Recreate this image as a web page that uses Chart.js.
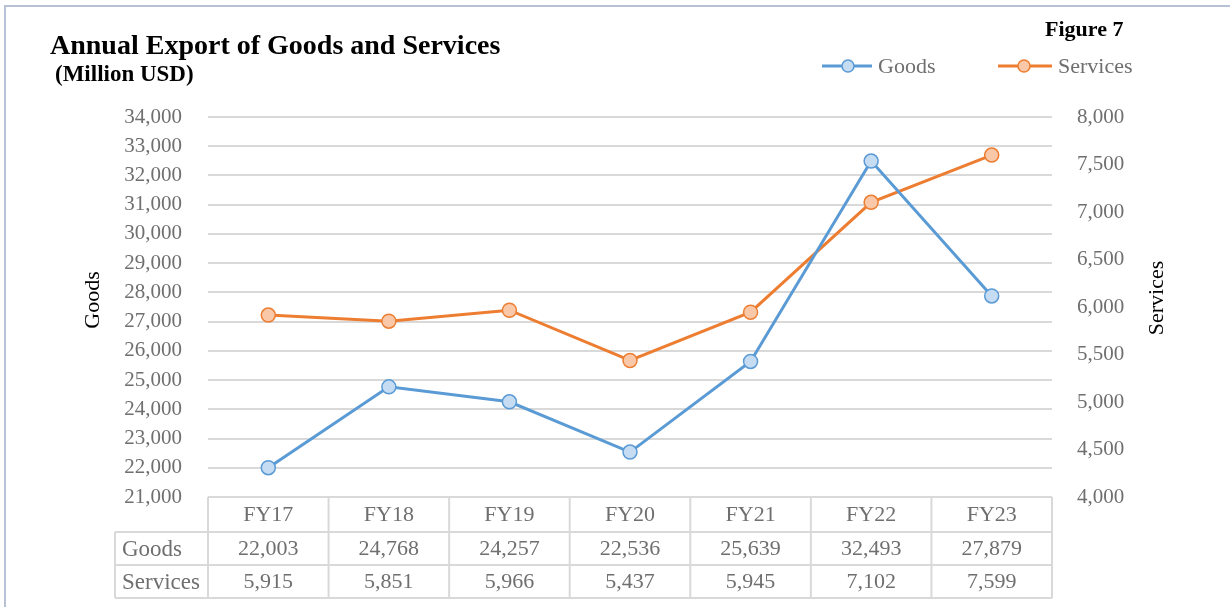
<!DOCTYPE html>
<html>
<head>
<meta charset="utf-8">
<title>Annual Export of Goods and Services</title>
<script src="https://cdn.jsdelivr.net/npm/chart.js@4.4.1/dist/chart.umd.min.js"></script>
<style>
  html, body { margin: 0; padding: 0; background: #fff; }
  #wrap { position: relative; width: 1230px; height: 607px; overflow: hidden; }
  #frame { position: absolute; left: 4px; top: 5px; width: 1240px; height: 620px;
           border-top: 2px solid #b8c2d6; border-left: 2px solid #b8c2d6; pointer-events: none; }
  canvas { position: absolute; left: 0; top: 0; }
</style>
</head>
<body>
<div id="wrap">
  <canvas id="myChart" width="1230" height="607"></canvas>
  <div id="frame"></div>
</div>
<script>
// datos
var years = ["FY17", "FY18", "FY19", "FY20", "FY21", "FY22", "FY23"];
var goods = [22003, 24768, 24257, 22536, 25639, 32493, 27879];
var services = [5915, 5851, 5966, 5437, 5945, 7102, 7599];
var goodsTicks = [21000, 34000, 1000];
var servicesTicks = [4000, 8000, 500];

var serif = "'Liberation Serif', 'DejaVu Serif', serif";
var grayText = "#6f6f6f";
var blue = "#5b9bd5";
var orange = "#ed7d31";

function fmt(v) {
    return v.toLocaleString("en-US");
}

// titulos, leyenda y tabla de datos
var extras = {
    id: "extras",
    afterDraw: function (chart) {
        var ctx = chart.ctx;
        var area = chart.chartArea;
        var x = chart.scales.x;
        var bw = area.width / years.length;
        ctx.save();

        // titulos
        ctx.fillStyle = "#000";
        ctx.textBaseline = "alphabetic";
        ctx.textAlign = "left";
        ctx.font = "bold 28px " + serif;
        ctx.fillText("Annual Export of Goods and Services", 50, 54);
        ctx.font = "bold 23px " + serif;
        ctx.fillText("(Million USD)", 55, 81);
        ctx.font = "bold 22px " + serif;
        ctx.fillText("Figure 7", 1045, 36);

        // leyenda
        var items = [
            { label: "Goods", color: blue, fill: "#c5dcf3", x: 822, w: 50 },
            { label: "Services", color: orange, fill: "#f9c8a9", x: 998, w: 54 }
        ];
        items.forEach(function (it) {
            ctx.strokeStyle = it.color;
            ctx.lineWidth = 3;
            ctx.beginPath();
            ctx.moveTo(it.x, 66);
            ctx.lineTo(it.x + it.w, 66);
            ctx.stroke();
            ctx.beginPath();
            ctx.arc(it.x + 26, 66, 6, 0, Math.PI * 2);
            ctx.fillStyle = it.fill;
            ctx.fill();
            ctx.lineWidth = 1.5;
            ctx.stroke();
            ctx.fillStyle = grayText;
            ctx.font = "22px " + serif;
            ctx.textAlign = "left";
            ctx.textBaseline = "middle";
            ctx.fillText(it.label, it.x + it.w + 6, 67);
        });

        // titulos de ejes
        ctx.fillStyle = "#000";
        ctx.font = "22px " + serif;
        ctx.textAlign = "center";
        ctx.textBaseline = "middle";
        ctx.save();
        ctx.translate(93, 300);
        ctx.rotate(-Math.PI / 2);
        ctx.fillText("Goods", 0, 0);
        ctx.restore();
        ctx.save();
        ctx.translate(1157, 298);
        ctx.rotate(-Math.PI / 2);
        ctx.fillText("Services", 0, 0);
        ctx.restore();

        // tabla de datos
        var top = area.bottom;
        var rowH = [35, 33, 33];
        var y1 = top + rowH[0];
        var y2 = y1 + rowH[1];
        var y3 = y2 + rowH[2];
        var labelLeft = 115;
        ctx.strokeStyle = "#d9d9d9";
        ctx.lineWidth = 2;
        ctx.beginPath();
        // horizontales
        ctx.moveTo(area.left, top); ctx.lineTo(area.right, top);
        ctx.moveTo(labelLeft, y1); ctx.lineTo(area.right, y1);
        ctx.moveTo(labelLeft, y2); ctx.lineTo(area.right, y2);
        ctx.moveTo(labelLeft, y3); ctx.lineTo(area.right, y3);
        // verticales
        ctx.moveTo(labelLeft, y1); ctx.lineTo(labelLeft, y3);
        for (var k = 0; k <= years.length; k++) {
            var vx = area.left + k * bw;
            ctx.moveTo(vx, top); ctx.lineTo(vx, y3);
        }
        ctx.stroke();

        ctx.fillStyle = grayText;
        ctx.textBaseline = "middle";
        ctx.textAlign = "left";
        ctx.font = "23px " + serif;
        ctx.fillText("Goods", 122, (y1 + y2) / 2 + 1);
        ctx.fillText("Services", 122, (y2 + y3) / 2 + 1);
        ctx.textAlign = "center";
        years.forEach(function (yr, i) {
            var cx = x.getPixelForValue(i);
            ctx.font = "22px " + serif;
            ctx.fillText(yr, cx, (top + y1) / 2 + 1);
            ctx.fillText(fmt(goods[i]), cx, (y1 + y2) / 2 + 1);
            ctx.fillText(fmt(services[i]), cx, (y2 + y3) / 2 + 1);
        });
        ctx.restore();
    }
};

var data = {
    labels: years,
    datasets: [{
        label: "Goods",
        data: goods,
        yAxisID: "yGoods",
        borderColor: blue,
        backgroundColor: "#c5dcf3",
        borderWidth: 3,
        pointRadius: 7,
        pointBorderWidth: 1.5,
        pointBorderColor: blue,
        pointBackgroundColor: "#c5dcf3",
        tension: 0
    }, {
        label: "Services",
        data: services,
        yAxisID: "yServices",
        borderColor: orange,
        backgroundColor: "#f9c8a9",
        borderWidth: 3,
        pointRadius: 7,
        pointBorderWidth: 1.5,
        pointBorderColor: orange,
        pointBackgroundColor: "#f9c8a9",
        tension: 0
    }]
};

var options = {
    responsive: false,
    animation: false,
    layout: {
        padding: { left: 0, right: 0, top: 117, bottom: 110 }
    },
    plugins: {
        legend: { display: false },
        title: { display: false },
        tooltip: { enabled: false }
    },
    scales: {
        x: {
            type: "category",
            display: false,
            offset: true
        },
        yGoods: {
            position: "left",
            min: goodsTicks[0],
            max: goodsTicks[1],
            afterFit: function (scale) { scale.width = 208; },
            border: { display: false },
            grid: { color: "#d9d9d9", lineWidth: 2, drawTicks: false },
            ticks: {
                stepSize: goodsTicks[2],
                autoSkip: false,
                padding: 26,
                color: grayText,
                font: { family: serif, size: 21 },
                callback: function (v) { return fmt(v); }
            }
        },
        yServices: {
            position: "right",
            min: servicesTicks[0],
            max: servicesTicks[1],
            afterFit: function (scale) { scale.width = 178; },
            border: { display: false },
            grid: { display: false, drawTicks: false },
            ticks: {
                stepSize: servicesTicks[2],
                autoSkip: false,
                padding: 25,
                color: grayText,
                font: { family: serif, size: 21 },
                callback: function (v) { return fmt(v); }
            }
        }
    }
};

var ctx = document.getElementById("myChart").getContext("2d");
var myChart = new Chart(ctx, {
    type: "line",
    data: data,
    options: options,
    plugins: [extras]
});
</script>
</body>
</html>
